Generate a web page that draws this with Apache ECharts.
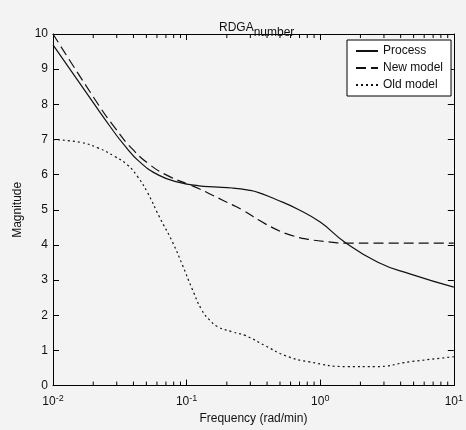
<!DOCTYPE html>
<html>
<head>
<meta charset="utf-8">
<script src="https://cdn.jsdelivr.net/npm/echarts@6/dist/echarts.min.js"></script>
<style>
  html, body { margin: 0; padding: 0; background: #f3f3f3; }
  #chart { width: 466px; height: 430px; }
</style>
</head>
<body>
<div id="chart"></div>
<script>
// frequency (rad/min) and magnitude
var processX = [0.01, 0.0205, 0.0265, 0.0343, 0.0443, 0.0623, 0.088, 0.124, 0.16, 0.22, 0.29, 0.346, 0.463, 0.686, 1.0, 1.53, 2.7, 4.75, 10];
var processY = [9.69, 7.99, 7.39, 6.83, 6.37, 5.98, 5.78, 5.68, 5.65, 5.62, 5.56, 5.49, 5.3, 5.01, 4.65, 4.08, 3.51, 3.17, 2.8];

var newX = [0.01, 0.0224, 0.029, 0.0373, 0.0527, 0.0741, 0.104, 0.124, 0.155, 0.22, 0.26, 0.35, 0.463, 0.6, 0.815, 1.2, 1.53, 3, 10];
var newY = [10.0, 7.93, 7.34, 6.82, 6.29, 5.95, 5.72, 5.6, 5.42, 5.14, 5.0, 4.7, 4.45, 4.28, 4.16, 4.08, 4.05, 4.05, 4.05];

var oldX = [0.01, 0.0159, 0.0217, 0.0289, 0.0362, 0.0428, 0.0508, 0.0625, 0.078, 0.0926, 0.11, 0.13, 0.15, 0.17, 0.219, 0.277, 0.39, 0.55, 0.815, 1.61, 2.57, 4.75, 10];
var oldY = [7.0, 6.92, 6.76, 6.52, 6.27, 5.95, 5.5, 4.8, 4.1, 3.45, 2.75, 2.15, 1.85, 1.68, 1.53, 1.42, 1.13, 0.85, 0.68, 0.54, 0.54, 0.68, 0.82];

var seriesNames = ['Process', 'New model', 'Old model'];

// minor tick positions on the log axis (2..9 in each decade)
var minorTicks = [];
[0.01, 0.1, 1].forEach(function (d) {
  for (var k = 2; k <= 9; k++) minorTicks.push(d * k);
});

function pairs(xs, ys) {
  return xs.map(function (x, i) { return [x, ys[i]]; });
}

var font = 'Liberation Sans, Arial, sans-serif';
var chart = echarts.init(document.getElementById('chart'));

var logAxisBase = {
  type: 'log',
  logBase: 10,
  min: 0.01,
  max: 10,
  splitNumber: 3,
  axisLine: { show: true, onZero: false, lineStyle: { color: '#000', width: 1 } },
  axisTick: { show: true, inside: true, length: 6, lineStyle: { color: '#000' } },
  splitLine: { show: false }
};

var option = {
  backgroundColor: '#f3f3f3',
  animation: false,
  textStyle: { fontFamily: font },
  title: {
    text: 'RDGA{sub|number}',
    left: 214,
    top: 12,
    textStyle: {
      fontFamily: font, fontSize: 12, fontWeight: 'normal', color: '#111',
      rich: { sub: { fontFamily: font, fontSize: 12, color: '#111', padding: [10, 0, 0, 0] } }
    }
  },
  legend: {
    data: seriesNames,
    orient: 'vertical',
    left: 347,
    top: 40,
    padding: [5, 8, 5, 8],
    itemWidth: 22,
    itemHeight: 12,
    itemGap: 5,
    backgroundColor: '#fff',
    borderColor: '#000',
    borderWidth: 1,
    borderRadius: 0,
    itemStyle: { opacity: 0 },
    textStyle: { fontFamily: font, fontSize: 12, color: '#111' }
  },
  grid: { left: 53, right: 10, top: 34, bottom: 43 },
  xAxis: [
    Object.assign({}, logAxisBase, {
      position: 'bottom',
      name: 'Frequency (rad/min)',
      nameLocation: 'middle',
      nameGap: 24,
      nameTextStyle: { fontFamily: font, fontSize: 12, color: '#111' },
      axisLabel: {
        margin: 8,
        color: '#111',
        formatter: function (v) {
          var e = Math.round(Math.log10(v));
          return '{b|10}{s|' + e + '}';
        },
        rich: {
          b: { fontFamily: font, fontSize: 12, color: '#111' },
          s: { fontFamily: font, fontSize: 9, color: '#111', padding: [0, 0, 8, 0] }
        }
      }
    }),
    Object.assign({}, logAxisBase, {
      position: 'top',
      axisLabel: { show: false }
    })
  ],
  yAxis: [
    {
      type: 'value',
      min: 0,
      max: 10,
      interval: 1,
      name: 'Magnitude',
      nameLocation: 'middle',
      nameGap: 27,
      nameTextStyle: { fontFamily: font, fontSize: 12, color: '#111' },
      axisLine: { show: true, lineStyle: { color: '#000', width: 1 } },
      axisTick: { show: true, inside: true, length: 6, lineStyle: { color: '#000' } },
      axisLabel: { fontFamily: font, fontSize: 12, color: '#111', margin: 5 },
      splitLine: { show: false }
    },
    {
      type: 'value',
      position: 'right',
      min: 0,
      max: 10,
      interval: 1,
      axisLine: { show: true, lineStyle: { color: '#000', width: 1 } },
      axisTick: { show: true, inside: true, length: 6, lineStyle: { color: '#000' } },
      axisLabel: { show: false },
      splitLine: { show: false }
    }
  ],
  series: [
    {
      name: 'Process',
      type: 'line',
      data: pairs(processX, processY),
      smooth: 0.5,
      symbol: 'none',
      lineStyle: { color: '#111', width: 1.2, type: 'solid' },
      itemStyle: { color: '#111' }
    },
    {
      name: 'New model',
      type: 'line',
      data: pairs(newX, newY),
      smooth: 0.5,
      symbol: 'none',
      lineStyle: { color: '#111', width: 1.2, type: [10, 5] },
      itemStyle: { color: '#111' }
    },
    {
      name: 'Old model',
      type: 'line',
      data: pairs(oldX, oldY),
      smooth: 0.5,
      symbol: 'none',
      lineStyle: { color: '#111', width: 1.2, type: [2, 3] },
      itemStyle: { color: '#111' }
    },
    {
      name: 'minorTicks',
      type: 'custom',
      silent: true,
      data: minorTicks.map(function (v) { return [v, 0]; }),
      renderItem: function (params, api) {
        var x = api.value(0);
        var b = api.coord([x, 0]);
        var t = api.coord([x, 10]);
        var st = { stroke: '#000', lineWidth: 1 };
        return {
          type: 'group',
          children: [
            { type: 'line', shape: { x1: b[0], y1: b[1], x2: b[0], y2: b[1] - 4 }, style: st },
            { type: 'line', shape: { x1: t[0], y1: t[1], x2: t[0], y2: t[1] + 4 }, style: st }
          ]
        };
      }
    }
  ]
};

chart.setOption(option);
</script>
</body>
</html>
